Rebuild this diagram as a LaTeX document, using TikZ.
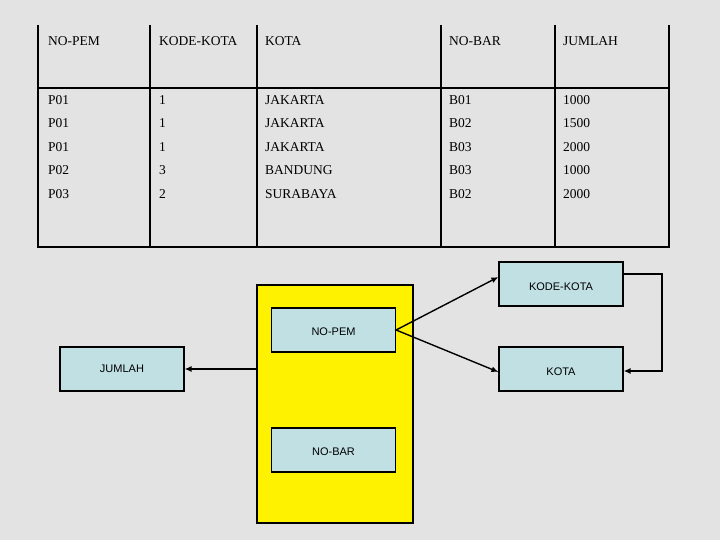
\documentclass[tikz,border=0pt]{standalone}
\usepackage{fontspec}
\setmainfont{Liberation Serif}
\newfontfamily\boxfont{Liberation Sans}
\usetikzlibrary{arrows.meta,calc}
\definecolor{bg}{HTML}{E3E3E3}
\definecolor{boxfill}{HTML}{C0E0E4}
\begin{document}
\begin{tikzpicture}[x=1pt,y=-1pt,>={Latex[length=7pt,width=6pt]},line width=1.4pt]
    \tikzstyle{b}=[draw=black, fill=boxfill, minimum width=124pt, minimum height=44pt, inner sep=0pt, text depth=0pt, line width=1.2pt, font=\boxfont\fontsize{11}{13}\selectfont]
    \tikzstyle{t}=[anchor=west, font=\fontsize{13.5}{15}\selectfont]

    \fill[bg] (0,0) rectangle (720,540);

    % table
    \draw[line width=1.8pt] (38,25) -- (38,247) -- (669,247) -- (669,25);
    \draw[line width=1.4pt] (38,88) -- (669,88);
    \foreach \x in {150,257,441,555}
        \draw[line width=1.4pt] (\x,25) -- (\x,247);

    \node[t] (h1) at (44,41) {NO-PEM};
    \node[t] (h2) at (155,41) {KODE-KOTA};
    \node[t] (h3) at (261,41) {KOTA};
    \node[t] (h4) at (445,41) {NO-BAR};
    \node[t] (h5) at (559,41) {JUMLAH};

    \foreach \a/\b/\c/\d/\e [count=\i] in {P01/1/JAKARTA/B01/1000, P01/1/JAKARTA/B02/1500, P01/1/JAKARTA/B03/2000, P02/3/BANDUNG/B03/1000, P03/2/SURABAYA/B02/2000} {
        \node[t] (r\i a) at (44,{100+23.5*(\i-1)}) {\a};
        \node[t] (r\i b) at (155,{100+23.5*(\i-1)}) {\b};
        \node[t] (r\i c) at (261,{100+23.5*(\i-1)}) {\c};
        \node[t] (r\i d) at (445,{100+23.5*(\i-1)}) {\d};
        \node[t] (r\i e) at (559,{100+23.5*(\i-1)}) {\e};
    }

    % diagram
    \node[draw=black, fill=yellow, minimum width=156pt, minimum height=238pt, inner sep=0pt, line width=1.6pt] (Y) at (335,404) {};
    \node[b] (kk) at (561,284) {\raisebox{-5pt}{KODE-KOTA}};
    \node[b] (np) at (333.5,330) {\raisebox{-3pt}{NO-PEM}};
    \node[b] (jm) at (122,369) {JUMLAH};
    \node[b] (kt) at (561,369) {\raisebox{-5pt}{KOTA}};
    \node[b] (nb) at (333.5,450) {\raisebox{-4pt}{NO-BAR}};

    \coordinate (c1) at (662,274);
    \coordinate (c2) at (662,371);

    \draw[->] (np.east) -- ($(kk.west)+(0,-7)$);
    \draw[->] (np.east) -- ($(kt.west)+(0,3)$);
    \draw[->] (Y.west |- jm.east) -- (jm.east);
    \draw[->] (kk.east |- c1) -- (c1) -- (c2) -- (kt.east |- c2);
\end{tikzpicture}
\end{document}
